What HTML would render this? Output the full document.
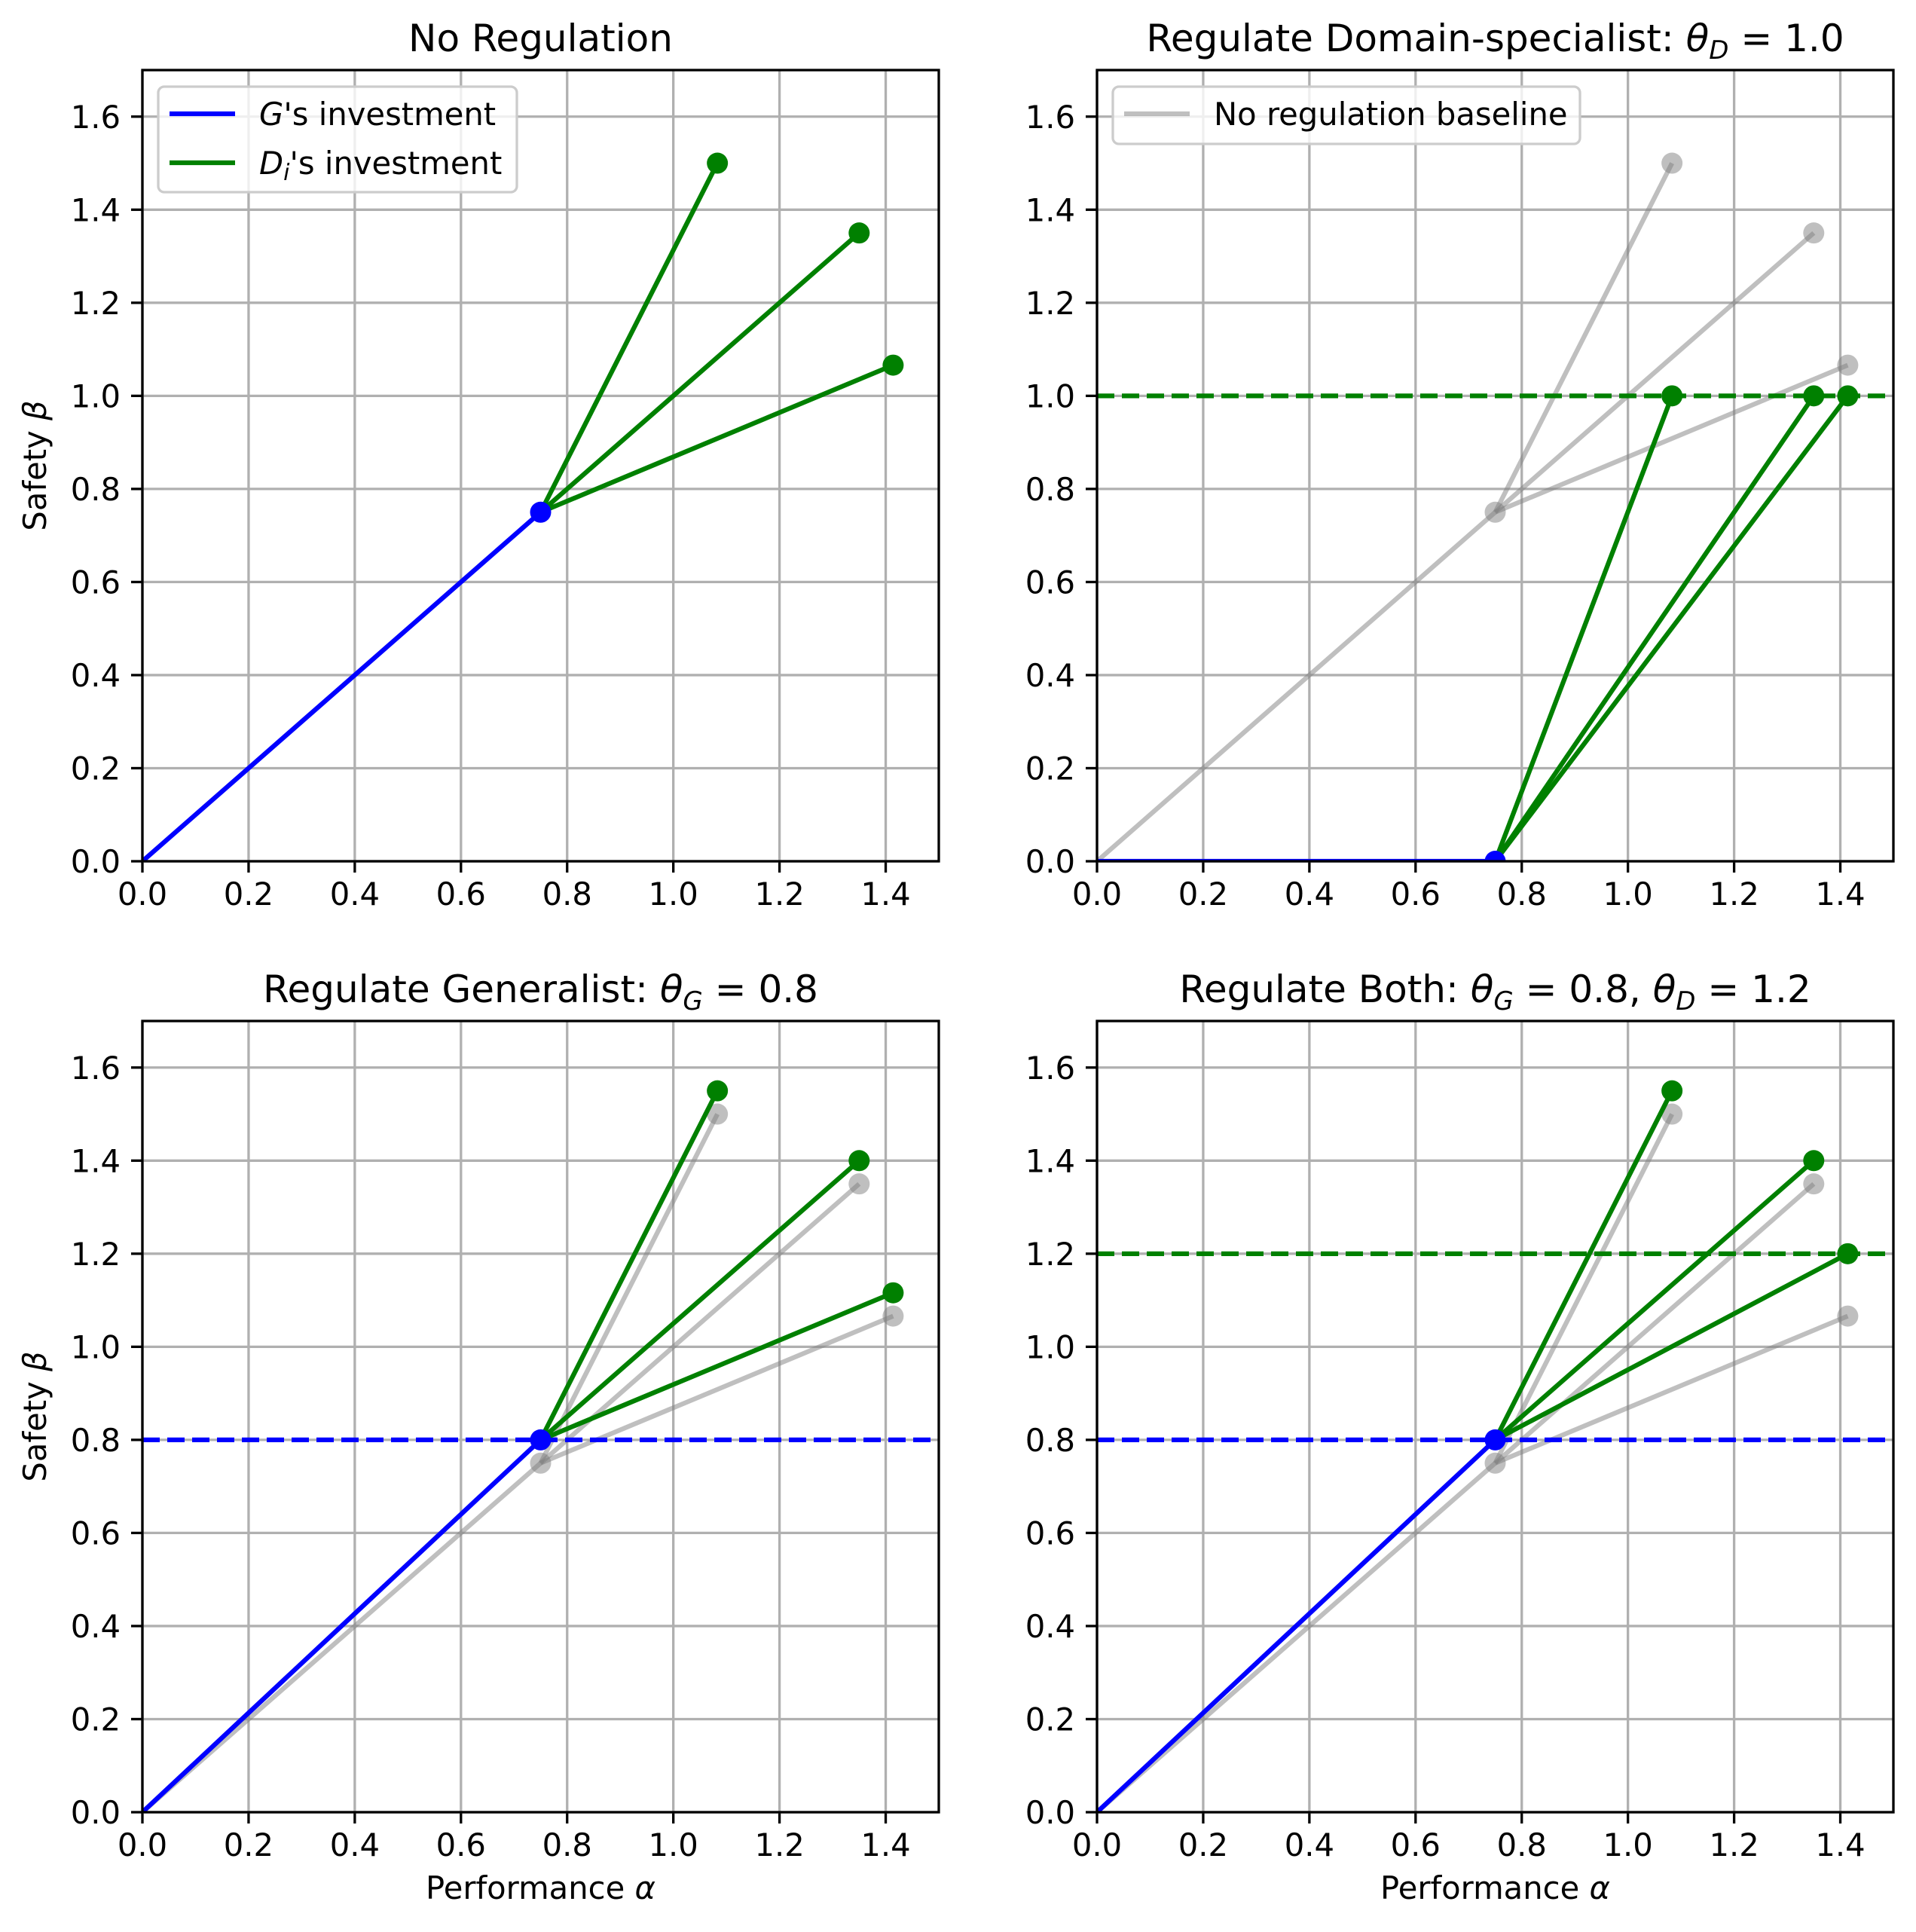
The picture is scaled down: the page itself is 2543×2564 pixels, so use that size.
<!DOCTYPE html>
<html><head><meta charset="utf-8"><style>
html,body{margin:0;padding:0;background:#fff}
svg{display:block}
text{font-family:"DejaVu Sans","Liberation Sans",sans-serif;fill:#000}
</style></head><body>
<svg id="s" xmlns="http://www.w3.org/2000/svg" width="2543" height="2564" viewBox="0 0 2543 2564"></svg>
<script>
const S=document.getElementById('s');let h='';
const W=1057,H=1050,R=14;
const panels=[
 {x0:189,y0:93,title:'No Regulation',ylab:true,xlab:false,
  G:[[0,0],[0.75,0.75]],D:[[1.083,1.5],[1.35,1.35],[1.414,1.066]],base:false,hl:[],legend:1},
 {x0:1456,y0:93,title:'Regulate Domain-specialist: <tspan font-style="italic">θ</tspan><tspan font-size="34" dy="10" font-style="italic">D</tspan><tspan dy="-10"> = 1.0</tspan>',ylab:false,xlab:false,
  G:[[0,0],[0.75,0]],D:[[1.083,1.0],[1.35,1.0],[1.414,1.0]],base:true,hl:[[1.0,'green']],legend:2},
 {x0:189,y0:1355,title:'Regulate Generalist: <tspan font-style="italic">θ</tspan><tspan font-size="34" dy="10" font-style="italic">G</tspan><tspan dy="-10"> = 0.8</tspan>',ylab:true,xlab:true,
  G:[[0,0],[0.75,0.8]],D:[[1.083,1.55],[1.35,1.4],[1.414,1.116]],base:true,hl:[[0.8,'blue']],legend:0},
 {x0:1456,y0:1355,title:'Regulate Both: <tspan font-style="italic">θ</tspan><tspan font-size="34" dy="10" font-style="italic">G</tspan><tspan dy="-10"> = 0.8, </tspan><tspan font-style="italic">θ</tspan><tspan font-size="34" dy="10" font-style="italic">D</tspan><tspan dy="-10"> = 1.2</tspan>',ylab:false,xlab:true,
  G:[[0,0],[0.75,0.8]],D:[[1.083,1.55],[1.35,1.4],[1.414,1.2]],base:true,hl:[[1.2,'green'],[0.8,'blue']],legend:0}
];
const baseD=[[1.083,1.5],[1.35,1.35],[1.414,1.066]];
for(const p of panels){
 const X=v=>p.x0+v/1.5*W, Y=v=>p.y0+H-v/1.7*H;
 const yb=p.y0+H;
 for(let i=0;i<=7;i++){const v=i*0.2;if(v>1.5)break;const x=X(v);
  h+=`<line x1="${x}" y1="${p.y0}" x2="${x}" y2="${yb}" stroke="#b0b0b0" stroke-width="3.3"/>`;
  h+=`<line x1="${x}" y1="${yb}" x2="${x}" y2="${yb+15}" stroke="#000" stroke-width="3.3"/>`;
  h+=`<text x="${x}" y="${yb+58}" font-size="41.7" text-anchor="middle">${v.toFixed(1)}</text>`;}
 for(let i=0;i<=8;i++){const v=i*0.2;const y=Y(v);
  h+=`<line x1="${p.x0}" y1="${y}" x2="${p.x0+W}" y2="${y}" stroke="#b0b0b0" stroke-width="3.3"/>`;
  h+=`<line x1="${p.x0-15}" y1="${y}" x2="${p.x0}" y2="${y}" stroke="#000" stroke-width="3.3"/>`;
  h+=`<text x="${p.x0-29}" y="${y+15}" font-size="41.7" text-anchor="end">${v.toFixed(1)}</text>`;}
 h+=`<svg x="${p.x0}" y="${p.y0}" width="${W}" height="${H}" overflow="hidden"><g transform="translate(${-p.x0},${-p.y0})">`;
 if(p.base){
  const g='stroke="#808080" stroke-opacity="0.5"';
  h+=`<line x1="${X(0)}" y1="${Y(0)}" x2="${X(.75)}" y2="${Y(.75)}" ${g} stroke-width="6.25"/>`;
  for(const d of baseD){h+=`<line x1="${X(.75)}" y1="${Y(.75)}" x2="${X(d[0])}" y2="${Y(d[1])}" ${g} stroke-width="6.25"/>`;
   h+=`<circle cx="${X(d[0])}" cy="${Y(d[1])}" r="${R}" fill="#808080" fill-opacity="0.5"/>`;}
  h+=`<circle cx="${X(.75)}" cy="${Y(.75)}" r="${R}" fill="#808080" fill-opacity="0.5"/>`;
 }
 for(const l of p.hl){h+=`<line x1="${p.x0}" y1="${Y(l[0])}" x2="${p.x0+W}" y2="${Y(l[0])}" stroke="${l[1]}" stroke-width="6.25" stroke-dasharray="23,10"/>`;}
 const gp=p.G[1];
 h+=`<line x1="${X(0)}" y1="${Y(0)}" x2="${X(gp[0])}" y2="${Y(gp[1])}" stroke="blue" stroke-width="6.25"/>`;
 for(const d of p.D){h+=`<line x1="${X(gp[0])}" y1="${Y(gp[1])}" x2="${X(d[0])}" y2="${Y(d[1])}" stroke="green" stroke-width="6.25"/>`;}
 for(const d of p.D){h+=`<circle cx="${X(d[0])}" cy="${Y(d[1])}" r="${R}" fill="green"/>`;}
 h+=`<circle cx="${X(gp[0])}" cy="${Y(gp[1])}" r="${R}" fill="blue"/>`;
 h+=`</g></svg>`;
 h+=`<rect x="${p.x0}" y="${p.y0}" width="${W}" height="${H}" fill="none" stroke="#000" stroke-width="3.3"/>`;
 h+=`<text x="${p.x0+W/2}" y="${p.y0-25}" font-size="50" text-anchor="middle">${p.title}</text>`;
 if(p.ylab)h+=`<text transform="translate(${p.x0-128},${p.y0+H/2}) rotate(-90)" font-size="41.7" text-anchor="middle">Safety <tspan font-style="italic">β</tspan></text>`;
 if(p.xlab)h+=`<text x="${p.x0+W/2}" y="${yb+115}" font-size="41.7" text-anchor="middle">Performance <tspan font-style="italic">α</tspan></text>`;
 if(p.legend==1){
  h+=`<rect x="${p.x0+21}" y="${p.y0+22}" width="476" height="140" rx="8" fill="#fff" fill-opacity="0.8" stroke="#ccc" stroke-width="3.3"/>`;
  h+=`<line x1="${p.x0+36}" y1="${p.y0+58}" x2="${p.x0+123}" y2="${p.y0+58}" stroke="blue" stroke-width="6.25"/>`;
  h+=`<text x="${p.x0+155}" y="${p.y0+73}" font-size="41.7"><tspan font-style="italic">G</tspan>'s investment</text>`;
  h+=`<line x1="${p.x0+36}" y1="${p.y0+123}" x2="${p.x0+123}" y2="${p.y0+123}" stroke="green" stroke-width="6.25"/>`;
  h+=`<text x="${p.x0+155}" y="${p.y0+138}" font-size="41.7"><tspan font-style="italic">D</tspan><tspan font-size="30" dy="8" font-style="italic">i</tspan><tspan dy="-8">'s investment</tspan></text>`;
 }
 if(p.legend==2){
  h+=`<rect x="${p.x0+21}" y="${p.y0+22}" width="620" height="76" rx="8" fill="#fff" fill-opacity="0.8" stroke="#ccc" stroke-width="3.3"/>`;
  h+=`<line x1="${p.x0+36}" y1="${p.y0+58}" x2="${p.x0+123}" y2="${p.y0+58}" stroke="#808080" stroke-opacity="0.5" stroke-width="6.25"/>`;
  h+=`<text x="${p.x0+155}" y="${p.y0+73}" font-size="41.7">No regulation baseline</text>`;
 }
}
S.innerHTML=h;
</script>
</body></html>
